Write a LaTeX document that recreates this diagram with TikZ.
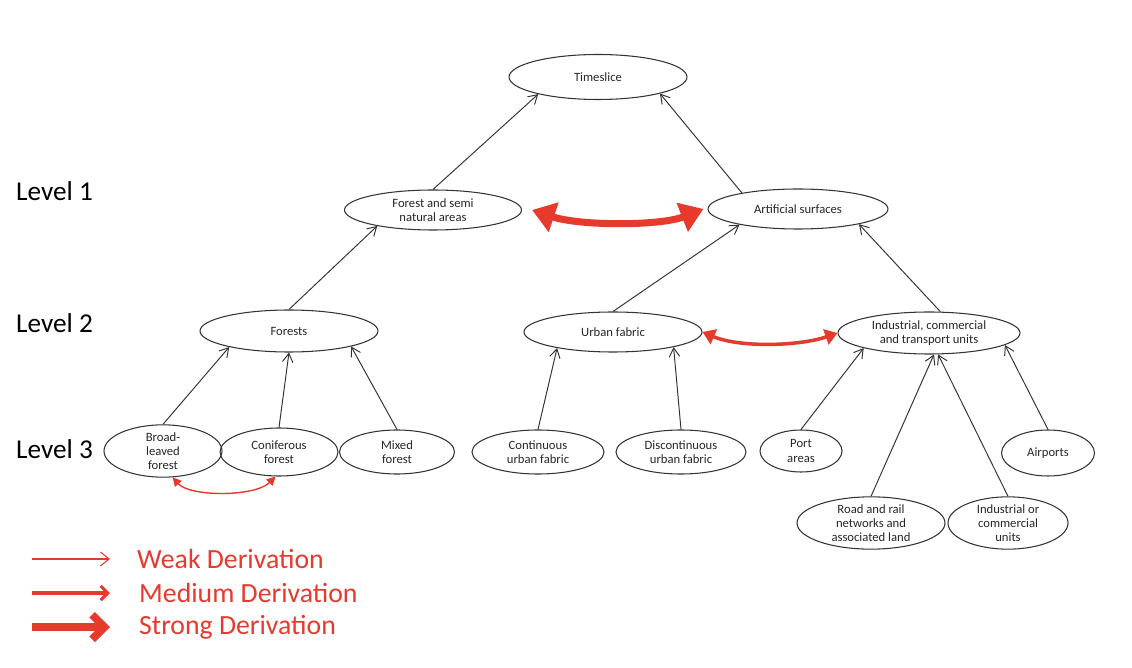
\documentclass[tikz,border=0pt]{standalone}
\usepackage{fontspec}
\setmainfont{Carlito}
\usetikzlibrary{shapes.geometric,arrows.meta}
\definecolor{dred}{RGB}{230,58,44}
\begin{document}
\begin{tikzpicture}[x=0.02cm,y=-0.02cm,
  cls/.style={draw=black!80,ellipse,line width=0.6pt,inner sep=0pt,font=\fontsize{7.2}{8}\selectfont,align=center,text=black!85},
  sub/.style={-{Straight Barb[length=5pt,width=6pt]},draw=black!80,line width=0.55pt},
  lvl/.style={font=\fontsize{15.5}{17}\selectfont,anchor=west},
  leg/.style={font=\fontsize{15.8}{18}\selectfont,anchor=west,text=dred}]
\useasboundingbox (0,0) rectangle (1132,668);
% nodes
\node[cls,minimum width=178*0.02cm,minimum height=45*0.02cm] (ts) at (598,77) {Timeslice};
\node[cls,minimum width=177*0.02cm,minimum height=40*0.02cm] (fsn) at (433,210) {Forest and semi\\natural areas};
\node[cls,minimum width=180*0.02cm,minimum height=40*0.02cm] (art) at (798,209) {Artificial surfaces};
\node[cls,minimum width=178*0.02cm,minimum height=42*0.02cm] (for) at (289,331) {Forests};
\node[cls,minimum width=178*0.02cm,minimum height=40*0.02cm] (urb) at (613,332) {Urban fabric};
\node[cls,minimum width=182*0.02cm,minimum height=42*0.02cm] (ind) at (929,333) {Industrial, commercial\\and transport units};
\node[cls,minimum width=118*0.02cm,minimum height=46*0.02cm] (bro) at (163,451) {Broad-\\leaved\\forest};
\node[cls,minimum width=118*0.02cm,minimum height=48*0.02cm] (con) at (279,452) {Coniferous\\forest};
\node[cls,minimum width=115*0.02cm,minimum height=44*0.02cm] (mix) at (397,452) {Mixed\\forest};
\node[cls,minimum width=132*0.02cm,minimum height=44*0.02cm] (cuf) at (538,452) {Continuous\\urban fabric};
\node[cls,minimum width=130*0.02cm,minimum height=44*0.02cm] (duf) at (681,452) {Discontinuous\\urban fabric};
\node[cls,minimum width=82*0.02cm,minimum height=42*0.02cm] (port) at (801,451) {Port\\areas};
\node[cls,minimum width=93*0.02cm,minimum height=46*0.02cm] (air) at (1048,453) {Airports};
\node[cls,minimum width=148*0.02cm,minimum height=46*0.02cm] (road) at (871,523) {Road and rail\\networks and\\associated land};
\node[cls,minimum width=120*0.02cm,minimum height=46*0.02cm] (ioc) at (1008,523) {Industrial or\\commercial\\units};
% level labels
\node[lvl] (l1) at (10,191) {Level 1};
\node[lvl] (l2) at (10,323) {Level 2};
\node[lvl] (l3) at (10,449) {Level 3};
% subclass edges
\draw[sub] (fsn.north) -- (ts.196);
\draw[sub] (art.164) -- (ts.345);
\draw[sub] (for.north) -- (fsn.196);
\draw[sub] (urb.north) -- (art.195);
\draw[sub] (ind.62) -- (art.346);
\draw[sub] (bro.north) -- (for.195);
\draw[sub] (con.north) -- (for.south);
\draw[sub] (mix.north) -- (for.346);
\draw[sub] (cuf.north) -- (urb.196);
\draw[sub] (duf.north) -- (urb.346);
\draw[sub] (port.north) -- (ind.193);
\draw[sub] (road.north) -- (ind.283);
\draw[sub] (ioc.north) -- (ind.293);
\draw[sub] (air.north) -- (ind.351);
% derivation arrows
\draw[dred,line width=4pt,{Triangle[width=17pt,length=13pt]}-{Triangle[width=17pt,length=13pt]}]
  ([xshift=10*0.02cm]fsn.east) .. controls (580,226) and (660,226) .. ([xshift=-4*0.02cm]art.west);
\draw[dred,line width=2pt,{Triangle[width=9pt,length=7pt]}-{Triangle[width=9pt,length=7pt]}]
  (urb.east) .. controls (740,348) and (800,346) .. (ind.west);
\draw[dred,line width=0.8pt,{Triangle[width=5pt,length=5pt]}-{Triangle[width=5pt,length=5pt]}]
  (bro.290) .. controls (190,497) and (255,497) .. (con.262);
% legend
\coordinate (w1) at (32,559); \coordinate (w2) at (110,559);
\coordinate (m1) at (32,593); \coordinate (m2) at (110,593);
\coordinate (s1) at (32,627); \coordinate (s2) at (110,627);
\draw[dred,line width=0.6pt,-{Straight Barb[length=5pt,width=8pt]}] (w1) -- (w2);
\draw[dred,line width=1.8pt,-{Straight Barb[length=4pt,width=8pt]}] (m1) -- (m2);
\draw[dred,line width=4.5pt,-{Straight Barb[length=7pt,width=14pt]}] (s1) -- (s2);
\node[leg] (lw) at (131,559) {Weak Derivation};
\node[leg] (lm) at (133,593) {Medium Derivation};
\node[leg] (ls) at (133,627) {Strong Derivation};
\end{tikzpicture}
\end{document}
